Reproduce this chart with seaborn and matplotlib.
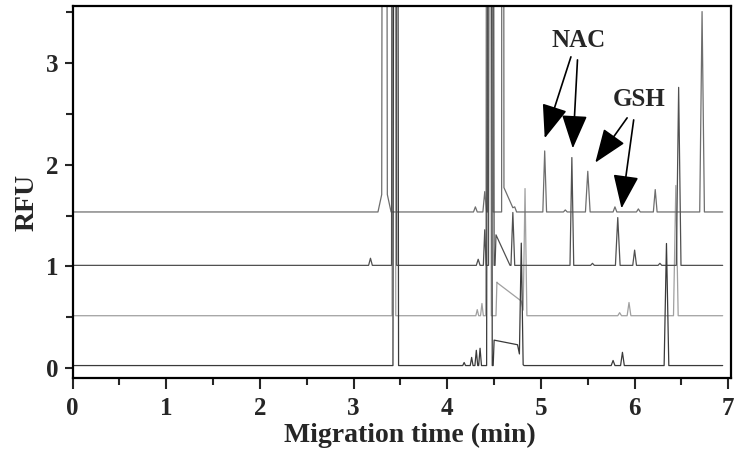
import numpy as np
import pandas as pd
import matplotlib.pyplot as plt
import seaborn as sns

# Baseline offset (RFU) of the four stacked electropherograms, top to bottom
trace_names = ['a', 'b', 'c', 'd']
baselines = [1.535, 1.01, 0.515, 0.025]
trace_colors = ['#6e6e6e', '#505050', '#a0a0a0', '#3a3a3a']
run_start, run_end = 0.0, 6.94

# Peaks: (time min, height above baseline, left width, right width)
# very tall peaks run off the top of the axes in the original
peaks_a = [(3.33, 0.30, 0.07, 0.07), (3.33, 20.0, 0.03, 0.03), (4.30, 0.05, 0.02, 0.02),
           (4.40, 0.20, 0.02, 0.02), (4.46, 20.0, 0.03, 0.03), (4.59, 20.0, 0.01, 0.015),
           (4.60, 0.25, 0.005, 0.12), (4.72, 0.05, 0.02, 0.02), (5.04, 0.60, 0.02, 0.02),
           (5.26, 0.02, 0.02, 0.02), (5.50, 0.40, 0.025, 0.025), (5.79, 0.05, 0.02, 0.02),
           (6.04, 0.03, 0.02, 0.02), (6.22, 0.22, 0.02, 0.02), (6.72, 1.97, 0.025, 0.025)]
peaks_b = [(3.18, 0.07, 0.02, 0.02), (3.43, 20.0, 0.025, 0.03), (4.33, 0.06, 0.02, 0.02),
           (4.40, 0.35, 0.015, 0.015), (4.47, 20.0, 0.03, 0.03), (4.52, 0.30, 0.01, 0.15),
           (4.70, 0.52, 0.02, 0.02), (5.33, 1.06, 0.02, 0.02), (5.55, 0.02, 0.02, 0.02),
           (5.82, 0.47, 0.025, 0.025), (6.00, 0.15, 0.02, 0.02), (6.27, 0.02, 0.02, 0.02),
           (6.47, 1.75, 0.025, 0.025)]
peaks_c = [(3.43, 20.0, 0.02, 0.02), (4.32, 0.06, 0.015, 0.015), (4.37, 0.12, 0.015, 0.015),
           (4.44, 20.0, 0.03, 0.03), (4.53, 0.33, 0.01, 0.30), (4.79, 0.10, 0.25, 0.03),
           (4.83, 1.25, 0.02, 0.02), (5.84, 0.03, 0.02, 0.02), (5.94, 0.13, 0.02, 0.02),
           (6.44, 1.28, 0.025, 0.025)]
peaks_d = [(3.45, 20.0, 0.03, 0.03), (4.18, 0.03, 0.015, 0.015), (4.26, 0.08, 0.015, 0.015),
           (4.31, 0.15, 0.015, 0.015), (4.35, 0.17, 0.015, 0.015), (4.45, 20.0, 0.03, 0.03),
           (4.50, 0.25, 0.01, 0.32), (4.75, 0.15, 0.25, 0.04), (4.79, 1.18, 0.02, 0.02),
           (5.77, 0.05, 0.02, 0.02), (5.87, 0.13, 0.02, 0.02), (6.34, 1.20, 0.025, 0.025)]
all_peaks = [peaks_a, peaks_b, peaks_c, peaks_d]

# Annotation labels and arrows: (tail x, tail y, tip x, tip y)
nac_label = ('NAC', 5.40, 3.22)
gsh_label = ('GSH', 6.05, 2.64)
nac_arrows = [(5.32, 3.06, 5.04, 2.26), (5.39, 3.03, 5.34, 2.16)]
gsh_arrows = [(5.92, 2.46, 5.58, 2.02), (5.99, 2.44, 5.86, 1.57)]


def trace_vertices(peaks, base):
    # corner points of the peak outline: start/end of each peak and its apex
    t = [run_start, run_end]
    for p, h, wl, wr in peaks:
        t += [p - wl, p, p + wr]
    t = np.unique(np.array(t))
    y = np.full(t.shape, base)
    for p, h, wl, wr in peaks:
        w = np.where(t < p, wl, wr)
        y += h * np.clip(1 - np.abs(t - p) / w, 0, None)
    return t, y


frames = []
for name, base, peaks in zip(trace_names, baselines, all_peaks):
    t, y = trace_vertices(peaks, base)
    frames.append(pd.DataFrame({'time': t, 'rfu': y, 'trace': name}))
df = pd.concat(frames, ignore_index=True)

sns.set_style('ticks')
plt.rcParams['font.family'] = ['Liberation Serif', 'DejaVu Serif']
plt.rcParams['font.weight'] = 'bold'

fig = plt.figure(figsize=(7.5, 4.61), dpi=100)
ax = fig.add_axes([0.0968, 0.181, 0.878, 0.806])

sns.lineplot(data=df, x='time', y='rfu', hue='trace',
             hue_order=['c', 'a', 'b', 'd'],
             palette=dict(zip(trace_names, trace_colors)),
             estimator=None, sort=False, lw=0.9, legend=False, ax=ax)

ax.set_xlim(0, 7.03)
ax.set_ylim(-0.093, 3.56)
ax.set_xticks(range(8))
ax.set_xticks(np.arange(0.5, 7.0, 1.0), minor=True)
ax.set_yticks([0, 1, 2, 3])
ax.set_yticks([0.5, 1.5, 2.5, 3.5], minor=True)
ax.tick_params(which='both', direction='out', width=1.5, labelsize=18)
ax.tick_params(axis='x', which='major', length=8, pad=6)
ax.tick_params(axis='y', which='major', length=6, pad=4)
ax.tick_params(which='minor', length=5)
for lab in ax.get_xticklabels() + ax.get_yticklabels():
    lab.set_fontweight('bold')
for sp in ax.spines.values():
    sp.set_visible(True)
    sp.set_linewidth(1.6)
    sp.set_color('black')

ax.set_xlabel('Migration time (min)', fontsize=20, fontweight='bold')
ax.set_ylabel('RFU', fontsize=20, fontweight='bold')
ax.xaxis.set_label_coords(0.512, -0.123)
ax.yaxis.set_label_coords(-0.05, 0.47)

for txt, x, y in [nac_label, gsh_label]:
    ax.text(x, y, txt, fontsize=18, fontweight='bold', ha='center', va='center')
for x0, y0, x1, y1 in nac_arrows + gsh_arrows:
    ax.annotate('', xy=(x1, y1), xytext=(x0, y0),
                arrowprops=dict(arrowstyle='-|>,head_length=1.05,head_width=0.4',
                                mutation_scale=20, lw=1.2, color='black',
                                shrinkA=0, shrinkB=0))

fig.savefig('out.png', dpi=100)
